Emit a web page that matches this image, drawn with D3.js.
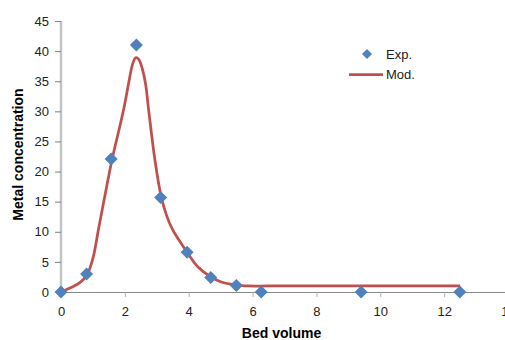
<!DOCTYPE html>
<html>
<head>
<meta charset="utf-8">
<script src="https://cdn.jsdelivr.net/npm/d3@7"></script>
<style>
  html, body { margin: 0; padding: 0; background: #fff; overflow: hidden; }
  svg { display: block; font-family: "Liberation Sans", Arial, sans-serif; }
</style>
</head>
<body>
<div id="chart"></div>
<script>
// Experimental points (bed volume, metal concentration)
const expX = [0, 0.8, 1.57, 2.36, 3.12, 3.95, 4.69, 5.49, 6.27, 9.4, 12.49];
const expY = [0, 3, 22.1, 41, 15.7, 6.6, 2.4, 1.1, 0, 0, 0];

// Model curve
const modX = [0, 0.3, 0.6, 0.8, 1.0, 1.17, 1.35, 1.6, 1.95, 2.13, 2.24, 2.34, 2.44, 2.55, 2.65, 2.75, 2.94, 3.12, 3.3, 3.5, 3.95, 4.3, 4.69, 5.0, 5.49, 5.9, 6.5, 12.5];
const modY = [0, 0.7, 1.6, 2.7, 5.6, 10.3, 15.3, 22, 30, 35, 37.8, 38.9, 38.6, 37, 34.5, 30, 22, 16.3, 12.8, 10.3, 6.6, 4.1, 2.5, 1.7, 1.15, 1.0, 1.0, 1.0];

const xTicks = [0, 2, 4, 6, 8, 10, 12, 14];
const yTicks = [0, 5, 10, 15, 20, 25, 30, 35, 40, 45];

const width = 505, height = 340;
const blue = '#4F81BD', red = '#C0504D';

const svg = d3.select('#chart').append('svg')
    .attr('width', width)
    .attr('height', height);

const x = d3.scaleLinear().domain([0, 14]).range([61, 508]);
const y = d3.scaleLinear().domain([0, 45]).range([292, 21]);

// x axis
const xAxis = svg.append('g')
    .attr('transform', `translate(0,${y(0)})`)
    .call(d3.axisBottom(x).tickValues(xTicks).tickSize(5).tickPadding(10).tickFormat(d3.format('d')));
xAxis.select('.domain').attr('stroke', '#898989').attr('stroke-width', 1).attr('d', `M${x(0)},0.5H${width}`);
xAxis.selectAll('.tick line').attr('stroke', '#b0b0b0');
xAxis.selectAll('.tick text').attr('font-size', 13).attr('fill', '#222');

// y axis
const yAxis = svg.append('g')
    .attr('transform', `translate(${x(0)},0)`)
    .call(d3.axisLeft(y).tickValues(yTicks).tickSize(6).tickPadding(6));
yAxis.select('.domain').attr('stroke', '#c4c4c4').attr('stroke-width', 2.5)
    .attr('d', `M0,${y(0)}V${y(45)}`);
yAxis.selectAll('.tick line').attr('stroke', '#808080');
yAxis.selectAll('.tick text').attr('font-size', 13).attr('fill', '#222');

// axis titles
svg.append('text')
    .attr('x', (x(0) + 508) / 2 - 3)
    .attr('y', 338)
    .attr('text-anchor', 'middle')
    .attr('font-size', 14)
    .attr('font-weight', 'bold')
    .text('Bed volume');

svg.append('text')
    .attr('transform', `translate(23,${(87 + 222) / 2}) rotate(-90)`)
    .attr('text-anchor', 'middle')
    .attr('font-size', 14)
    .attr('font-weight', 'bold')
    .text('Metal concentration');

// model line
const modPts = modX.map((v, i) => [v, modY[i]]);
svg.append('path')
    .datum(modPts)
    .attr('fill', 'none')
    .attr('stroke', red)
    .attr('stroke-width', 2.75)
    .attr('stroke-linejoin', 'round')
    .attr('d', d3.line().x(d => x(d[0])).y(d => y(d[1])).curve(d3.curveCatmullRom.alpha(0.5)));

// experimental points (diamonds)
const diamond = s => `M0,${-s}L${s},0L0,${s}L${-s},0Z`;
svg.append('g').selectAll('path')
    .data(expX.map((v, i) => [v, expY[i]]))
    .join('path')
    .attr('transform', d => `translate(${x(d[0])},${y(d[1])})`)
    .attr('d', diamond(6.5))
    .attr('fill', blue);

// legend
const lg = svg.append('g');
lg.append('path').attr('transform', 'translate(367,54)').attr('d', diamond(5)).attr('fill', blue);
lg.append('line').attr('x1', 349).attr('x2', 383).attr('y1', 74.5).attr('y2', 74.5)
    .attr('stroke', red).attr('stroke-width', 2.75);
lg.append('text').attr('x', 386).attr('y', 59).attr('font-size', 13).attr('fill', '#222').text('Exp.');
lg.append('text').attr('x', 386).attr('y', 79).attr('font-size', 13).attr('fill', '#222').text('Mod.');
</script>
</body>
</html>
